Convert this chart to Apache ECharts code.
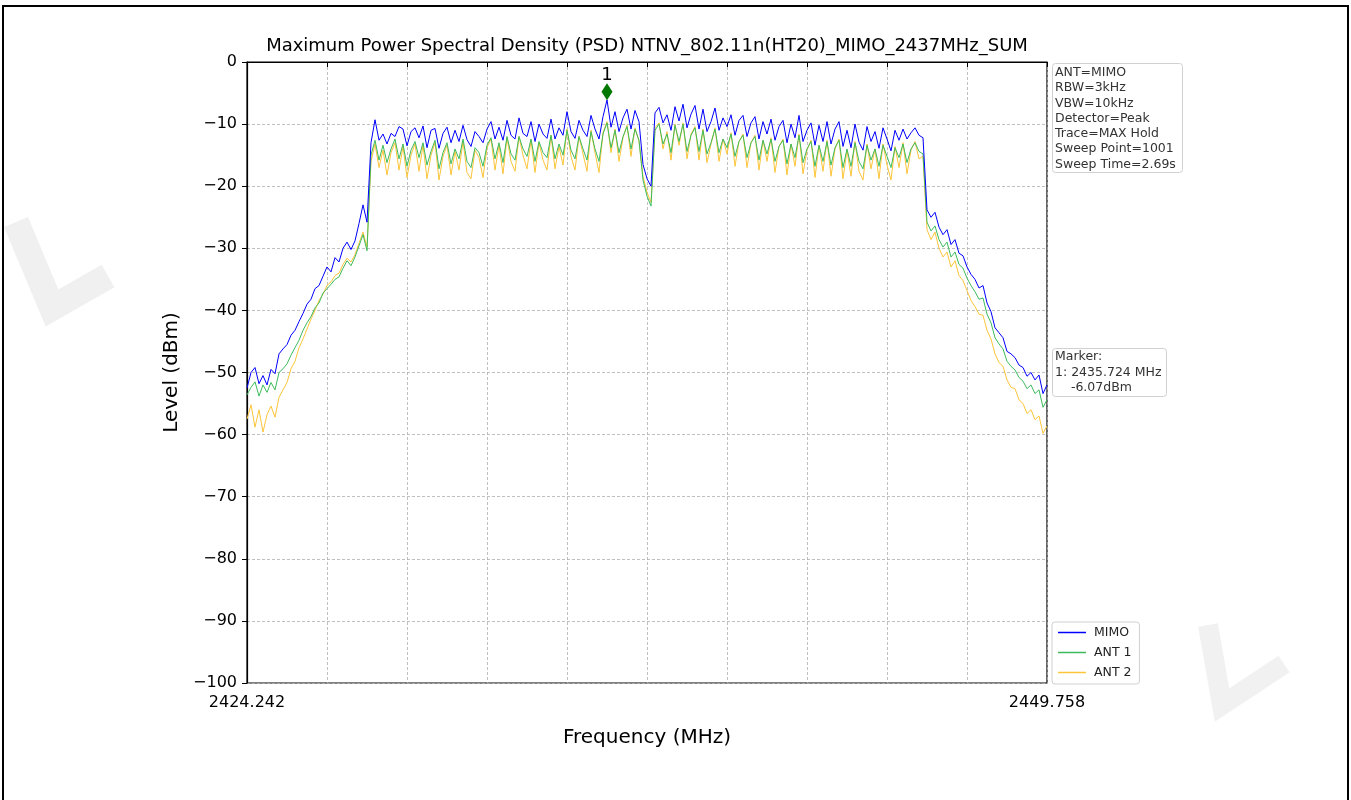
<!DOCTYPE html>
<html>
<head>
<meta charset="utf-8">
<title>PSD</title>
<script src="https://cdn.jsdelivr.net/npm/echarts@6/dist/echarts.min.js"></script>
<style>
  html, body { margin: 0; padding: 0; background: #fff; }
  #chart { width: 1351px; height: 800px; }
</style>
</head>
<body>
<div id="chart"></div>
<script>
// sweep span (MHz), 201 points shown (every 5th of the 1001 sweep points)
var F_START = 2424.242
var F_STOP = 2449.758
var N_POINTS = 201

// MIMO trace (dBm)
var mimo = [
  -52.5, -50.0, -49.2, -51.8, -50.5, -52.0, -49.5, -50.2, -47.0, -46.2,
  -45.5, -44.0, -43.2, -41.8, -40.5, -39.0, -38.2, -36.5, -36.0, -34.5,
  -33.0, -33.8, -31.5, -32.2, -30.0, -29.0, -30.2, -28.8, -26.0, -23.0,
  -25.8, -13.0, -9.3, -12.6, -11.6, -13.2, -11.5, -12.0, -10.4, -10.8,
  -13.5, -11.2, -10.6, -12.2, -10.3, -13.8, -11.0, -10.7, -13.9, -11.5,
  -10.5, -13.0, -11.0, -12.8, -10.2, -12.5, -13.6, -11.2, -12.0, -13.0,
  -10.8, -9.6, -12.4, -10.5, -12.6, -9.4, -11.8, -12.4, -9.0, -11.5,
  -12.0, -9.6, -12.8, -10.0, -11.6, -12.3, -9.2, -12.4, -10.6, -11.8,
  -8.0, -11.2, -12.3, -9.4, -11.0, -12.0, -8.6, -10.8, -12.4, -8.8,
  -6.1, -10.5, -8.0, -11.2, -9.0, -7.6, -10.8, -7.8, -9.6, -16.5,
  -18.8, -20.0, -8.2, -7.3, -9.8, -8.5, -11.0, -7.2, -9.5, -6.8,
  -10.6, -8.4, -7.0, -10.8, -7.6, -11.2, -9.6, -7.4, -11.0, -9.0,
  -10.4, -8.5, -11.8, -9.4, -8.6, -12.0, -9.8, -8.8, -12.4, -9.6,
  -11.6, -9.2, -12.6, -10.4, -9.4, -13.0, -10.0, -12.2, -8.6, -12.8,
  -11.0, -9.8, -13.4, -10.2, -12.8, -9.6, -13.2, -10.8, -9.6, -13.6,
  -11.0, -13.8, -10.0, -12.9, -14.2, -10.4, -12.8, -11.2, -13.9, -10.6,
  -12.4, -14.3, -11.0, -12.6, -10.8, -12.4, -11.4, -10.6, -11.8, -12.2,
  -23.8, -25.0, -24.2, -26.6, -27.8, -27.0, -29.4, -28.6, -30.8, -31.2,
  -33.0, -34.2, -35.0, -36.4, -36.0, -38.8, -40.2, -42.8, -43.6, -44.4,
  -46.6, -47.0, -47.6, -48.8, -49.2, -50.6, -50.0, -51.2, -50.4, -53.4,
  -52.0
]

// ANT 1 trace (dBm)
var ant1 = [
  -53.6, -52.4, -51.5, -53.8, -52.0, -53.2, -51.6, -52.8, -50.0, -49.4,
  -48.6, -47.2, -46.0, -44.8, -43.2, -42.0, -41.0, -39.6, -38.8, -37.2,
  -36.5, -35.8, -35.0, -34.6, -33.2, -32.0, -32.8, -31.4, -29.6, -27.8,
  -30.4, -15.0, -12.6, -15.8, -13.4, -16.2, -14.0, -12.4, -15.6, -13.2,
  -16.8, -14.2, -12.8, -15.4, -13.0, -16.6, -14.4, -12.6, -17.2, -14.6,
  -13.0, -16.4, -14.0, -15.6, -12.4, -16.0, -17.0, -13.8, -14.6, -16.8,
  -13.4, -12.2, -15.6, -13.0, -16.2, -12.0, -14.8, -15.8, -12.0, -14.0,
  -15.2, -12.4, -16.0, -12.8, -14.6, -15.4, -11.8, -15.6, -13.2, -15.0,
  -11.0, -14.2, -15.6, -12.0, -14.0, -15.8, -11.2, -14.0, -16.0, -11.6,
  -9.8, -13.8, -11.0, -14.6, -12.0, -10.4, -14.0, -10.8, -12.6, -19.0,
  -21.6, -23.2, -11.0, -10.0, -13.2, -11.6, -14.6, -10.2, -12.8, -10.0,
  -14.4, -11.8, -10.6, -14.4, -11.0, -14.8, -13.0, -10.8, -14.6, -12.4,
  -13.8, -11.6, -15.2, -12.8, -11.8, -15.4, -13.0, -12.0, -15.8, -12.6,
  -14.8, -12.4, -16.0, -13.6, -12.6, -16.4, -13.2, -15.4, -11.8, -16.2,
  -14.0, -12.8, -16.8, -13.4, -16.0, -12.8, -16.6, -13.8, -12.6, -17.0,
  -14.0, -16.8, -13.0, -16.0, -17.2, -13.4, -15.8, -14.0, -16.8, -13.4,
  -15.2, -17.0, -13.8, -15.4, -13.2, -16.2, -14.0, -13.0, -14.4, -14.8,
  -25.8, -27.2, -26.4, -28.6, -29.8, -29.0, -31.4, -30.6, -32.6, -33.2,
  -34.8, -36.0, -37.0, -38.2, -38.0, -40.6, -42.0, -44.4, -45.4, -46.2,
  -48.2, -49.0, -49.6, -50.8, -51.4, -52.6, -52.0, -53.4, -52.8, -55.6,
  -54.4
]

// ANT 2 trace (dBm)
var ant2 = [
  -57.5, -55.2, -58.8, -56.0, -59.6, -56.8, -55.4, -57.2, -54.0, -52.8,
  -51.6, -49.4, -48.2, -46.0, -44.6, -43.0, -41.4, -40.0, -38.4, -37.4,
  -36.0, -35.4, -34.4, -34.0, -32.6, -31.6, -32.2, -31.0, -29.2, -27.4,
  -29.8, -16.0, -13.2, -17.0, -14.2, -18.2, -14.6, -13.0, -17.4, -13.6,
  -18.6, -15.0, -13.2, -17.6, -13.4, -18.8, -15.0, -13.0, -19.0, -15.2,
  -13.4, -18.2, -14.4, -17.4, -12.8, -17.8, -18.8, -14.2, -15.4, -18.6,
  -13.8, -12.4, -17.4, -13.4, -18.0, -12.2, -16.0, -17.6, -12.0, -15.0,
  -17.2, -12.6, -17.8, -13.0, -15.8, -17.4, -11.8, -17.2, -13.6, -16.6,
  -10.8, -15.2, -17.4, -12.0, -14.8, -17.6, -11.0, -14.6, -17.8, -11.4,
  -9.6, -14.6, -10.8, -16.0, -12.2, -10.2, -15.2, -10.6, -12.8, -18.4,
  -21.0, -22.6, -10.6, -9.8, -14.0, -11.2, -15.8, -10.0, -13.4, -9.8,
  -15.6, -11.6, -10.4, -15.8, -10.8, -16.2, -13.2, -10.6, -16.0, -12.4,
  -14.8, -11.4, -16.8, -12.8, -11.6, -17.0, -13.0, -11.8, -17.4, -12.6,
  -16.0, -12.2, -17.8, -13.6, -12.4, -18.2, -13.2, -16.8, -11.6, -18.0,
  -14.2, -12.6, -18.6, -13.4, -17.6, -12.6, -18.4, -14.0, -12.4, -18.8,
  -14.2, -18.4, -12.8, -17.6, -19.0, -13.2, -17.2, -14.0, -18.8, -13.2,
  -16.6, -19.0, -13.6, -17.0, -13.0, -18.0, -14.2, -12.8, -15.6, -15.2,
  -27.0, -28.6, -27.4, -30.0, -31.4, -30.6, -33.0, -32.0, -34.4, -35.2,
  -36.8, -38.4, -39.4, -40.6, -40.8, -43.2, -44.6, -47.0, -48.4, -49.0,
  -51.2, -52.4, -52.6, -54.4, -55.0, -56.6, -56.0, -57.6, -57.0, -59.8,
  -58.6
]

// marker 1
var markerFreq = [2435.724]
var markerLevel = [-6.07]

var yTicks = [0, -10, -20, -30, -40, -50, -60, -70, -80, -90, -100]

var infoLines = [
  'ANT=MIMO',
  'RBW=3kHz',
  'VBW=10kHz',
  'Detector=Peak',
  'Trace=MAX Hold',
  'Sweep Point=1001',
  'Sweep Time=2.69s'
]
var markerLines = ['Marker:', '1: 2435.724 MHz', '    -6.07dBm']

var SPAN = +(F_STOP - F_START).toFixed(3)
var STEP = SPAN / (N_POINTS - 1)

// x axis runs on offset from start so the 10 equal divisions line up
function toPairs(list) {
  return list.map(function (v, i) {
    return [+(i * STEP).toFixed(5), v]
  })
}

var FONT = 'DejaVu Sans'
var chart = echarts.init(document.getElementById('chart'))

chart.setOption({
  animation: false,
  backgroundColor: '#fff',
  textStyle: { fontFamily: FONT },
  grid: {
    left: 247,
    right: 304,
    top: 62,
    bottom: 117,
    show: true,
    borderColor: '#000',
    borderWidth: 1.2,
    backgroundColor: 'transparent'
  },
  legend: {
    orient: 'vertical',
    left: 1052,
    top: 622,
    data: ['MIMO', 'ANT 1', 'ANT 2'],
    icon: 'rect',
    itemWidth: 28,
    itemHeight: 1.5,
    itemGap: 7,
    padding: [4, 8, 5, 6],
    backgroundColor: '#fff',
    borderColor: '#d0d0d0',
    borderWidth: 1,
    borderRadius: 3,
    textStyle: { fontFamily: FONT, fontSize: 12.5, color: '#222', padding: [0, 0, 0, 3] }
  },
  xAxis: {
    type: 'value',
    min: 0,
    max: SPAN,
    interval: SPAN / 10,
    axisLine: { show: true, lineStyle: { color: '#000', width: 1.2 } },
    axisTick: { show: true, length: 5, lineStyle: { color: '#000' } },
    axisLabel: {
      margin: 12,
      fontSize: 16,
      color: '#000',
      fontFamily: FONT,
      formatter: function (v) {
        if (Math.abs(v) < 1e-6) return F_START.toFixed(3)
        if (Math.abs(v - SPAN) < 1e-6) return F_STOP.toFixed(3)
        return ''
      }
    },
    splitLine: { show: true, lineStyle: { color: '#b0b0b0', width: 0.8, type: [3, 2] } },
    name: 'Frequency (MHz)',
    nameLocation: 'middle',
    nameGap: 45,
    nameTextStyle: { fontSize: 20, color: '#000', fontFamily: FONT }
  },
  yAxis: {
    type: 'value',
    min: -100,
    max: 0,
    interval: 10,
    axisLine: { show: true, lineStyle: { color: '#000', width: 1.2 } },
    axisTick: { show: true, length: 5, lineStyle: { color: '#000' } },
    axisLabel: {
      margin: 10,
      fontSize: 16,
      color: '#000',
      fontFamily: FONT,
      formatter: function (v) {
        return yTicks.indexOf(v) >= 0 ? String(v).replace('-', '\u2212') : ''
      }
    },
    splitLine: { show: true, lineStyle: { color: '#b0b0b0', width: 0.8, type: [3, 2] } },
    name: 'Level (dBm)',
    nameLocation: 'middle',
    nameGap: 62,
    nameTextStyle: { fontSize: 20, color: '#000', fontFamily: FONT }
  },
  series: [
    {
      name: 'ANT 2',
      type: 'line',
      data: toPairs(ant2),
      showSymbol: false,
      color: '#fcc53a',
      lineStyle: { width: 1, color: '#fcc53a' }
    },
    {
      name: 'ANT 1',
      type: 'line',
      data: toPairs(ant1),
      showSymbol: false,
      color: '#3dbb5c',
      lineStyle: { width: 1, color: '#3dbb5c' }
    },
    {
      name: 'MIMO',
      type: 'line',
      data: toPairs(mimo),
      showSymbol: false,
      color: '#0000ff',
      lineStyle: { width: 1, color: '#0000ff' }
    },
    {
      name: 'marker',
      type: 'scatter',
      data: markerFreq.map(function (f, i) {
        return [+(f - F_START).toFixed(5), markerLevel[i]]
      }),
      symbol: 'diamond',
      symbolSize: [11, 17],
      symbolOffset: [0, -8],
      itemStyle: { color: '#007800', opacity: 1 },
      label: {
        show: true,
        position: 'top',
        distance: -1,
        formatter: '1',
        fontSize: 18,
        color: '#000',
        fontFamily: FONT
      },
      z: 5
    }
  ],
  graphic: [
    // faint watermark marks
    {
      type: 'polyline',
      z: -10,
      silent: true,
      shape: { points: [[16, 222], [52, 308], [108, 276]] },
      style: { stroke: '#f0f0f0', lineWidth: 26, fill: null }
    },
    {
      type: 'polyline',
      z: -10,
      silent: true,
      shape: { points: [[1208, 625], [1222, 705], [1284, 664]] },
      style: { stroke: '#f1f1f1', lineWidth: 20, fill: null }
    },
    // outer frame
    {
      type: 'rect',
      z: 10,
      silent: true,
      shape: { x: 3, y: 6, width: 1345, height: 800 },
      style: { stroke: '#000', lineWidth: 2, fill: null }
    },
    {
      type: 'text',
      z: 10,
      x: 647,
      y: 46,
      style: {
        text: 'Maximum Power Spectral Density (PSD) NTNV_802.11n(HT20)_MIMO_2437MHz_SUM',
        font: '18px "DejaVu Sans"',
        fill: '#000',
        textAlign: 'center',
        textVerticalAlign: 'middle'
      }
    },
    {
      type: 'rect',
      z: 10,
      shape: { x: 1052.5, y: 63.5, width: 130, height: 109, r: 3 },
      style: { fill: '#fff', stroke: '#d0d0d0', lineWidth: 1 }
    },
    {
      type: 'text',
      z: 11,
      x: 1055,
      y: 65,
      style: {
        text: infoLines.join('\n'),
        font: '12.5px "DejaVu Sans"',
        lineHeight: 15.3,
        fill: '#333'
      }
    },
    {
      type: 'rect',
      z: 10,
      shape: { x: 1052.5, y: 348.5, width: 114, height: 48, r: 3 },
      style: { fill: '#fff', stroke: '#d0d0d0', lineWidth: 1 }
    },
    {
      type: 'text',
      z: 11,
      x: 1055,
      y: 349,
      style: {
        text: markerLines.join('\n'),
        font: '12.5px "DejaVu Sans"',
        lineHeight: 15.5,
        fill: '#333'
      }
    }
  ]
})
</script>
</body>
</html>
